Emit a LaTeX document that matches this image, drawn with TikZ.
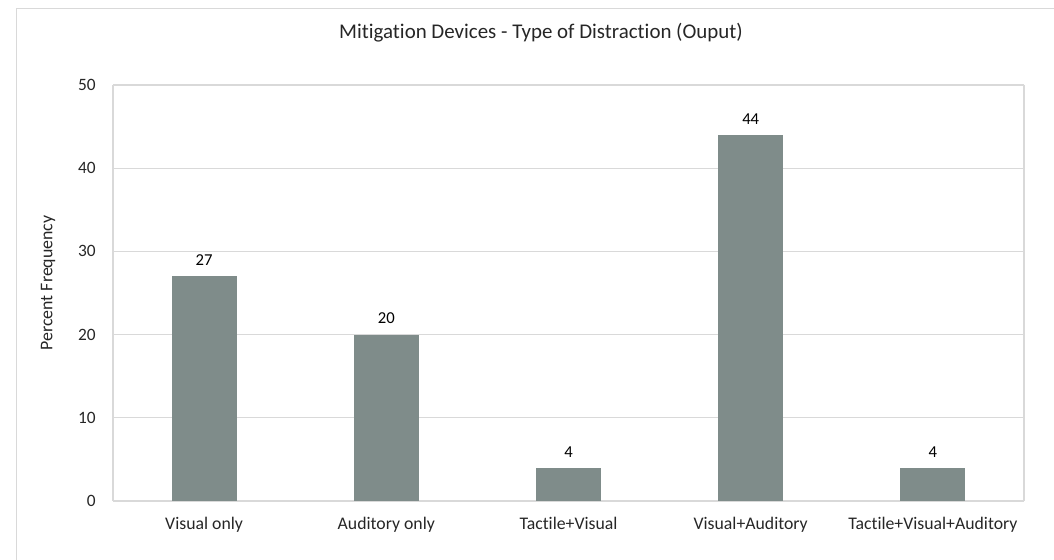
\documentclass[tikz,border=0pt]{standalone}
\usepackage{fontspec}
\setmainfont{Carlito}[Ligatures=NoCommon]
\usepackage{tikz}

\definecolor{barGrey}{HTML}{7F8C8A}
\definecolor{gridGrey}{HTML}{D9D9D9}
\definecolor{textGrey}{HTML}{262626}

\tikzset{
  barfill/.style={fill=barGrey, draw=none},
  gridline/.style={draw=gridGrey, line width=0.9pt},
  framegrey/.style={draw=gridGrey, line width=1.1pt},
  ticktext/.style={anchor=east, inner sep=0.75pt, text=textGrey, font=\fontsize{13}{15}\selectfont},
  cattext/.style={anchor=base, inner sep=0.75pt, text=textGrey, font=\fontsize{13.3}{15}\selectfont},
  valtext/.style={inner sep=0.75pt, text=black, font=\fontsize{12.5}{14}\selectfont}
}

\begin{document}
\begin{tikzpicture}[x=0.75pt,y=0.75pt,yscale=-1,xscale=1]
\useasboundingbox (0,0) rectangle (1054,560);

%Shape: Outer frame
\draw [framegrey]  (16.5,560) -- (16.5,8.5) -- (1054,8.5) ;

%Shape: Grid lines
\draw [gridline]  (113,85) -- (1024,85) ;
\draw [gridline]  (113,168.2) -- (1024,168.2) ;
\draw [gridline]  (113,251.4) -- (1024,251.4) ;
\draw [gridline]  (113,334.6) -- (1024,334.6) ;
\draw [gridline]  (113,417.8) -- (1024,417.8) ;
\draw [gridline]  (113,501) -- (1024,501) ;
%Shape: Plot area sides
\draw [gridline]  (113,85) -- (113,501) ;
\draw [gridline]  (1024,85) -- (1024,501) ;

%Shape: Bars
\fill [barfill]  (171.6,276.4) rectangle (236.6,501) ;
\fill [barfill]  (353.8,334.6) rectangle (418.8,501) ;
\fill [barfill]  (536,467.7) rectangle (601,501) ;
\fill [barfill]  (718.2,134.9) rectangle (783.2,501) ;
\fill [barfill]  (900.4,467.7) rectangle (965.4,501) ;

% Text Node
\draw (541,33) node (title) [inner sep=0.75pt, text=textGrey, font=\fontsize{15.7}{18}\selectfont] {Mitigation Devices - Type of Distraction (Ouput)};
% Text Node
\draw (48,283) node (ylabel) [rotate=90, inner sep=0.75pt, text=textGrey, font=\fontsize{13.4}{15}\selectfont] {Percent Frequency};

% Text Node
\draw (97,501) node (tick0) [ticktext] {0};
% Text Node
\draw (97,417.8) node (tick10) [ticktext] {10};
% Text Node
\draw (97,334.6) node (tick20) [ticktext] {20};
% Text Node
\draw (97,251.4) node (tick30) [ticktext] {30};
% Text Node
\draw (97,168.2) node (tick40) [ticktext] {40};
% Text Node
\draw (97,85) node (tick50) [ticktext] {50};

% Text Node
\draw (204.1,529) node (catVisual) [cattext] {Visual only};
% Text Node
\draw (386.3,529) node (catAuditory) [cattext] {Auditory only};
% Text Node
\draw (568.5,529) node (catTactVis) [cattext] {Tactile+Visual};
% Text Node
\draw (750.7,529) node (catVisAud) [cattext] {Visual+Auditory};
% Text Node
\draw (932.9,529) node (catTactVisAud) [cattext] {Tactile+Visual+Auditory};

% Text Node
\draw (204.1,260.4) node (valVisual) [valtext] {27};
% Text Node
\draw (386.3,318.6) node (valAuditory) [valtext] {20};
% Text Node
\draw (568.5,451.7) node (valTactVis) [valtext] {4};
% Text Node
\draw (750.7,118.9) node (valVisAud) [valtext] {44};
% Text Node
\draw (932.9,451.7) node (valTactVisAud) [valtext] {4};

\end{tikzpicture}
\end{document}
